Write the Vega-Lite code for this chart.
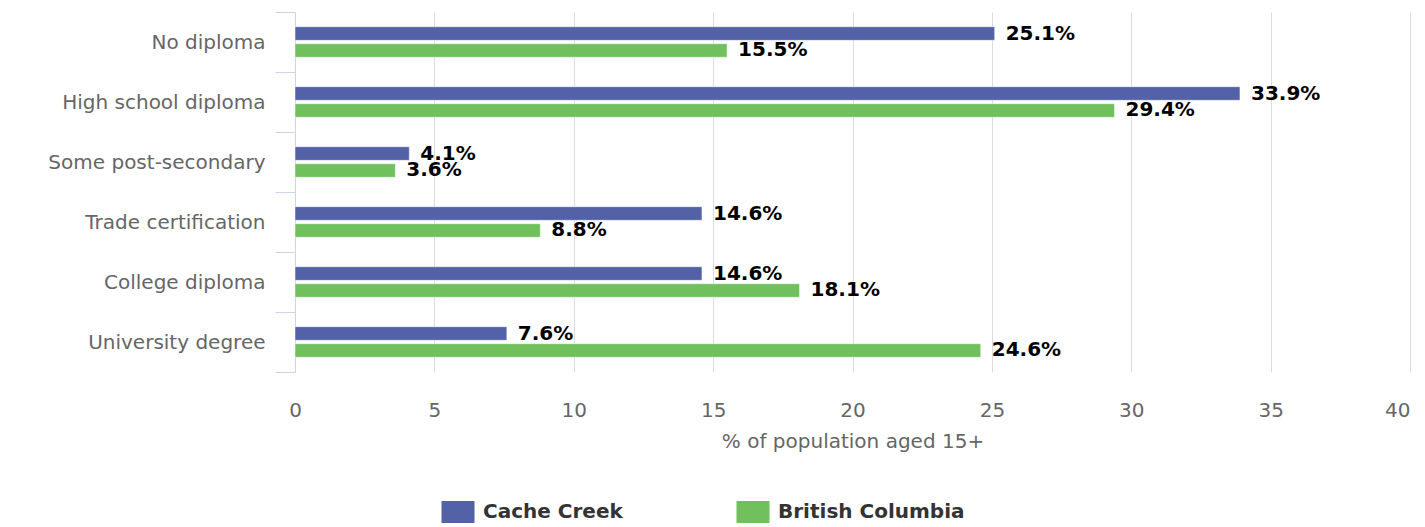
{
  "$schema": "https://vega.github.io/schema/vega-lite/v6.json",
  "autosize": "none",
  "width": 1115,
  "height": 360,
  "padding": {"left": 295, "top": 12, "right": 15, "bottom": 155},
  "background": "white",
  "config": {
    "view": {"stroke": null},
    "font": "DejaVu Sans"
  },
  "data": {
    "values": [
      {"category": "No diploma", "region": "Cache Creek", "value": 25.1},
      {"category": "No diploma", "region": "British Columbia", "value": 15.5},
      {"category": "High school diploma", "region": "Cache Creek", "value": 33.9},
      {"category": "High school diploma", "region": "British Columbia", "value": 29.4},
      {"category": "Some post-secondary", "region": "Cache Creek", "value": 4.1},
      {"category": "Some post-secondary", "region": "British Columbia", "value": 3.6},
      {"category": "Trade certification", "region": "Cache Creek", "value": 14.6},
      {"category": "Trade certification", "region": "British Columbia", "value": 8.8},
      {"category": "College diploma", "region": "Cache Creek", "value": 14.6},
      {"category": "College diploma", "region": "British Columbia", "value": 18.1},
      {"category": "University degree", "region": "Cache Creek", "value": 7.6},
      {"category": "University degree", "region": "British Columbia", "value": 24.6}
    ]
  },
  "transform": [
    {"calculate": "format(datum.value, '.1f') + '%'", "as": "label"}
  ],
  "encoding": {
    "y": {
      "field": "category",
      "type": "nominal",
      "sort": ["No diploma", "High school diploma", "Some post-secondary", "Trade certification", "College diploma", "University degree"],
      "scale": {"paddingInner": 0, "paddingOuter": 0},
      "axis": {
        "title": null,
        "domainColor": "#ccd6eb",
        "domainWidth": 1,
        "tickColor": "#ccd6eb",
        "tickSize": 20,
        "tickBand": "extent",
        "labelPadding": 10,
        "labelFontSize": 20,
        "labelColor": "#666666",
        "labelFont": "DejaVu Sans",
        "labelLimit": 400,
        "grid": false
      }
    },
    "yOffset": {
      "field": "region",
      "type": "nominal",
      "sort": ["Cache Creek", "British Columbia"],
      "scale": {"paddingInner": 0.2, "paddingOuter": 0.865}
    },
    "x": {
      "field": "value",
      "type": "quantitative",
      "scale": {"domain": [0, 40], "nice": false},
      "axis": {
        "title": "% of population aged 15+",
        "values": [0, 5, 10, 15, 20, 25, 30, 35, 40],
        "domain": false,
        "ticks": false,
        "grid": true,
        "gridColor": "#dcdcdc",
        "gridWidth": 1,
        "labelFlush": false,
        "labelAlign": {"expr": "datum.value == 40 ? 'right' : 'center'"},
        "labelPadding": 28,
        "labelFontSize": 20,
        "labelColor": "#666666",
        "labelFont": "DejaVu Sans",
        "titleFontSize": 20,
        "titleFontWeight": "normal",
        "titleColor": "#666666",
        "titleFont": "DejaVu Sans",
        "titlePadding": 11
      }
    }
  },
  "layer": [
    {
      "mark": {"type": "bar", "stroke": "white", "strokeWidth": 0.5},
      "encoding": {
        "color": {
          "field": "region",
          "type": "nominal",
          "scale": {"domain": ["Cache Creek", "British Columbia"], "range": ["#5362a6", "#70c05e"]},
          "legend": {
            "title": null,
            "orient": "none",
            "direction": "horizontal",
            "legendX": 152,
            "legendY": 489,
            "padding": 0,
            "symbolType": "M-1.5,-1H1.5V1H-1.5Z",
            "symbolSize": 484,
            "symbolStrokeWidth": 0,
            "symbolOpacity": 1,
            "labelOffset": 14,
            "labelFontSize": 20,
            "labelFontWeight": "bold",
            "labelColor": "#333333",
            "labelFont": "DejaVu Sans",
            "labelLimit": 400,
            "columnPadding": 113
          }
        }
      }
    },
    {
      "mark": {"type": "text", "align": "left", "baseline": "middle", "dx": 11, "fontSize": 20, "fontWeight": "bold", "color": "#000000", "font": "DejaVu Sans"},
      "encoding": {
        "text": {"field": "label", "type": "nominal"}
      }
    }
  ]
}
